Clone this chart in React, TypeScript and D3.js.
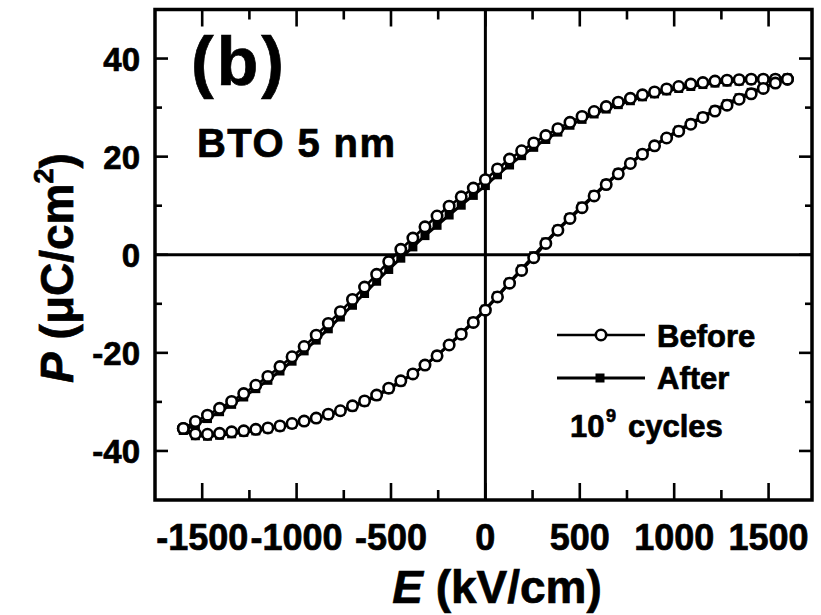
import React from "react";
import * as d3 from "d3";

const E_DESC = [1600,1536,1472,1408,1344,1280,1216,1152,1088,1024,960,896,832,768,704,640,576,512,448,384,320,256,192,128,64,0,-64,-128,-192,-256,-320,-384,-448,-512,-576,-640,-704,-768,-832,-896,-960,-1024,-1088,-1152,-1216,-1280,-1344,-1408,-1472,-1536,-1600];
const E_ASC = [...E_DESC].reverse();

const BEFORE_UPPER = [35.8,35.8,35.8,35.8,35.7,35.6,35.4,35.1,34.8,34.3,33.8,33.2,32.6,31.9,31.1,30.2,29.2,28.2,27.0,25.7,24.3,22.8,21.2,19.5,17.5,15.3,13.6,11.8,9.9,7.9,5.7,3.4,1.1,-1.4,-4.0,-6.6,-9.1,-11.6,-14.0,-16.4,-18.7,-20.8,-22.8,-24.8,-26.6,-28.3,-29.9,-31.3,-32.7,-34.0,-35.4];
const BEFORE_LOWER = [-35.4,-36.5,-36.6,-36.4,-36.1,-35.9,-35.6,-35.3,-34.9,-34.4,-33.9,-33.3,-32.5,-31.8,-30.8,-29.8,-28.6,-27.2,-25.7,-24.3,-22.5,-20.6,-18.4,-16.2,-13.8,-11.3,-8.6,-5.8,-3.2,-0.6,2.3,5.0,7.4,9.6,12.0,14.3,16.5,18.6,20.5,22.2,23.8,25.2,26.6,28.0,29.3,30.5,31.7,32.8,33.9,35.0,35.8];
const AFTER_UPPER = [36.0,35.9,35.8,35.6,35.4,35.2,35.0,34.7,34.3,33.9,33.4,32.8,32.2,31.4,30.6,29.7,28.7,27.6,26.4,25.0,23.5,21.9,20.2,18.3,16.3,14.1,12.1,10.1,8.1,6.0,3.9,1.6,-0.7,-3.0,-5.4,-7.9,-10.3,-12.7,-15.1,-17.4,-19.6,-21.7,-23.7,-25.6,-27.3,-29.0,-30.5,-32.0,-33.4,-34.7,-35.8];
const AFTER_LOWER = [-35.8,-36.9,-37.0,-36.8,-36.5,-36.2,-35.9,-35.5,-35.1,-34.6,-34.0,-33.4,-32.7,-31.9,-31.0,-30.0,-28.8,-27.4,-25.9,-24.3,-22.5,-20.5,-18.3,-16.0,-13.6,-11.1,-8.4,-5.6,-2.9,-0.2,2.6,5.2,7.6,9.9,12.2,14.5,16.7,18.7,20.6,22.3,23.9,25.4,26.8,28.2,29.5,30.8,32.0,33.1,34.1,35.1,36.0];

const X_MAJOR = [-1500,-1000,-500,0,500,1000,1500];
const X_MINOR = [-1250,-750,-250,250,750,1250];
const Y_MAJOR = [-40,-20,0,20,40];
const Y_MINOR = [-30,-10,10,30];

const FONT = "'Liberation Sans', Arial, Helvetica, sans-serif";

export default function App() {
  const W = 821, H = 615;
  const L = 155, R = 812, T = 9.5, B = 500;
  const x = d3.scaleLinear().domain([-1750, 1730]).range([L, R]);
  const y = d3.scaleLinear().domain([-50, 50]).range([B, T]);

  const loop = (upper: number[], lower: number[]) => [
    ...E_DESC.map((e, i) => [e, upper[i]] as [number, number]),
    ...E_ASC.map((e, i) => [e, lower[i]] as [number, number]),
  ];
  const before = loop(BEFORE_UPPER, BEFORE_LOWER);
  const after = loop(AFTER_UPPER, AFTER_LOWER);
  const line = d3.line<[number, number]>().x(d => x(d[0])).y(d => y(d[1]));

  const xMajLen = 17, xMinLen = 10, yMajLen = 13, yMinLen = 7;
  const tw = 2.6;
  const txt = { stroke: "#000", strokeWidth: 0.7 } as any;

  return (
    <svg width={W} height={H} style={{ position: "absolute", left: 0, top: 0, background: "#fff" }}
      fontFamily={FONT} fontWeight="bold">
      <rect x={0} y={0} width={W} height={H} fill="#fff" />
      {/* zero lines */}
      <line x1={L} x2={R} y1={y(0)} y2={y(0)} stroke="#000" strokeWidth={3} />
      <line x1={x(0)} x2={x(0)} y1={T} y2={B} stroke="#000" strokeWidth={3} />

      {/* After series */}
      <path d={line(after) || ""} fill="none" stroke="#000" strokeWidth={3} />
      {after.map((d, i) => (
        <rect key={"a" + i} x={x(d[0]) - 4.5} y={y(d[1]) - 4.5} width={9} height={9} fill="#000" />
      ))}
      {/* Before series */}
      <path d={line(before) || ""} fill="none" stroke="#000" strokeWidth={2.6} />
      {before.map((d, i) => (
        <circle key={"b" + i} cx={x(d[0])} cy={y(d[1])} r={5.2} fill="#fff" stroke="#000" strokeWidth={2.6} />
      ))}

      {/* ticks */}
      {X_MAJOR.map(v => (
        <g key={"xm" + v}>
          <line x1={x(v)} x2={x(v)} y1={B} y2={B - xMajLen} stroke="#000" strokeWidth={tw} />
          <line x1={x(v)} x2={x(v)} y1={T} y2={T + xMajLen} stroke="#000" strokeWidth={tw} />
          <text x={x(v)} y={550} fontSize={36} textAnchor="middle" {...txt}>{String(v)}</text>
        </g>
      ))}
      {X_MINOR.map(v => (
        <g key={"xn" + v}>
          <line x1={x(v)} x2={x(v)} y1={B} y2={B - xMinLen} stroke="#000" strokeWidth={tw} />
          <line x1={x(v)} x2={x(v)} y1={T} y2={T + xMinLen} stroke="#000" strokeWidth={tw} />
        </g>
      ))}
      {Y_MAJOR.map(v => (
        <g key={"ym" + v}>
          <line x1={L} x2={L + yMajLen} y1={y(v)} y2={y(v)} stroke="#000" strokeWidth={tw} />
          <line x1={R} x2={R - yMajLen} y1={y(v)} y2={y(v)} stroke="#000" strokeWidth={tw} />
          <text x={140} y={y(v) + 12} fontSize={33} textAnchor="end" {...txt}>{String(v)}</text>
        </g>
      ))}
      {Y_MINOR.map(v => (
        <g key={"yn" + v}>
          <line x1={L} x2={L + yMinLen} y1={y(v)} y2={y(v)} stroke="#000" strokeWidth={tw} />
          <line x1={R} x2={R - yMinLen} y1={y(v)} y2={y(v)} stroke="#000" strokeWidth={tw} />
        </g>
      ))}

      {/* frame */}
      <rect x={L} y={T} width={R - L} height={B - T} fill="none" stroke="#000" strokeWidth={3.5} />

      {/* annotations */}
      <text x={191} y={85} fontSize={68} letterSpacing={3} {...txt}>(b)</text>
      <text x={197} y={157} fontSize={40} textLength={198} {...txt}>BTO 5 nm</text>

      {/* legend */}
      <line x1={557} x2={645} y1={335} y2={335} stroke="#000" strokeWidth={2.6} />
      <circle cx={601} cy={335} r={5.2} fill="#fff" stroke="#000" strokeWidth={2.6} />
      <text x={657} y={347} fontSize={31} {...txt}>Before</text>
      <line x1={557} x2={645} y1={378} y2={378} stroke="#000" strokeWidth={3} />
      <rect x={595.5} y={373.5} width={9} height={9} fill="#000" />
      <text x={657} y={389} fontSize={31} {...txt}>After</text>
      <text x={570} y={437} fontSize={31} {...txt}>10</text>
      <text x={606} y={422} fontSize={18} {...txt}>9</text>
      <text x={628} y={437} fontSize={31} {...txt}>cycles</text>

      {/* axis titles */}
      <text x={497} y={603} fontSize={46} textAnchor="middle" {...txt}>
        <tspan fontStyle="italic">E</tspan>
        <tspan> (kV/cm)</tspan>
      </text>
      <text transform="translate(73,268) rotate(-90)" fontSize={46} textAnchor="middle" {...txt}>
        <tspan fontStyle="italic">P</tspan>
        <tspan> (μC/cm</tspan>
        <tspan fontSize={27} dy={-20}>2</tspan>
        <tspan dy={20}>)</tspan>
      </text>
    </svg>
  );
}
